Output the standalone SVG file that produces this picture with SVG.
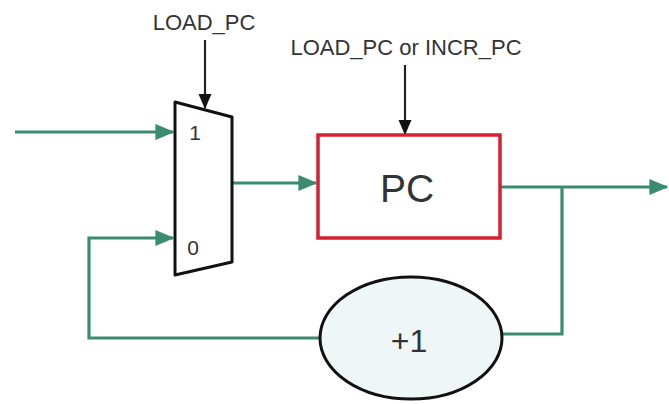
<svg xmlns="http://www.w3.org/2000/svg" width="669" height="404" viewBox="0 0 669 404">
<defs>
<marker id="ga" markerWidth="6" markerHeight="5" refX="5.5" refY="2.5" orient="auto" markerUnits="strokeWidth"><path d="M0,0 L6,2.5 L0,5 Z" fill="#3b8c6e"/></marker>
<marker id="ka" markerWidth="7" markerHeight="6" refX="6.5" refY="3" orient="auto" markerUnits="strokeWidth"><path d="M0,0 L7,3 L0,6 Z" fill="#111"/></marker>
</defs>
<style>
.w{fill:none;stroke:#3b8c6e;stroke-width:3.2}
.c{fill:none;stroke:#222;stroke-width:2.2}
.t{font-family:"Liberation Sans",Arial,sans-serif;fill:#333}
</style>
<rect width="669" height="404" fill="#fff"/>
<g id="connectors">
<path class="w" d="M15,132 H173" marker-end="url(#ga)"/>
<path class="w" d="M320,338 H89 V238 H173" marker-end="url(#ga)"/>
<path class="w" d="M232,183 H316" marker-end="url(#ga)"/>
<path class="w" d="M500,187 H667" marker-end="url(#ga)"/>
<path class="w" d="M562,187 V334 H502"/>
<path class="c" d="M205,40 V108" marker-end="url(#ka)"/>
<path class="c" d="M405,65 V134" marker-end="url(#ka)"/>
</g>
<g id="mux">
<polygon points="175,102 232,117 232,262 175,275" fill="#fff" stroke="#111" stroke-width="3" stroke-linejoin="round"/>
<text class="t" x="195" y="140" font-size="21" text-anchor="middle">1</text>
<text class="t" x="193" y="255" font-size="21" text-anchor="middle">0</text>
</g>
<g id="pc">
<rect x="318" y="135" width="182" height="103" fill="#fff" stroke="#d42030" stroke-width="3.5"/>
<text class="t" x="407" y="202" font-size="39" text-anchor="middle">PC</text>
</g>
<g id="incr">
<ellipse cx="411" cy="338" rx="91" ry="61" fill="#eef6f8" stroke="#111" stroke-width="3"/>
<text class="t" x="409" y="352" font-size="32" text-anchor="middle">+1</text>
</g>
<g id="labels">
<text class="t" x="204" y="30" font-size="22" text-anchor="middle">LOAD_PC</text>
<text class="t" x="406" y="55" font-size="22" text-anchor="middle">LOAD_PC or INCR_PC</text>
</g>
</svg>
